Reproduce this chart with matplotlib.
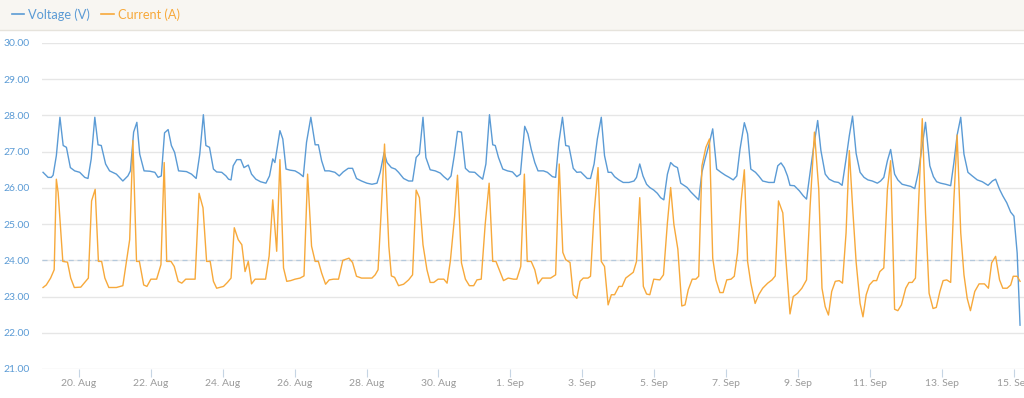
import matplotlib
matplotlib.use("Agg")
from matplotlib import pyplot as plt
from matplotlib.lines import Line2D
from matplotlib.patches import Rectangle
import pandas as pd

plt.rcParams["font.family"] = ["Lato", "DejaVu Sans"]

start = pd.Timestamp("2019-08-19 00:00")

# voltage readings: days since 19 Aug 00:00, volts
volt_days = [
    0.00, 0.14, 0.23, 0.28, 0.37, 0.47, 0.56, 0.65, 0.76, 0.88,
    1.02, 1.16, 1.25, 1.34, 1.44, 1.53, 1.62, 1.74, 1.85, 2.04,
    2.22, 2.36, 2.43, 2.52, 2.61, 2.69, 2.81, 2.97, 3.11, 3.20,
    3.29, 3.38, 3.48, 3.57, 3.66, 3.77, 3.99, 4.13, 4.26, 4.36,
    4.46, 4.53, 4.63, 4.74, 4.83, 4.97, 5.09, 5.16, 5.23, 5.29,
    5.39, 5.50, 5.59, 5.71, 5.80, 5.92, 6.05, 6.20, 6.30, 6.39,
    6.45, 6.59, 6.67, 6.76, 6.87, 7.01, 7.13, 7.24, 7.33, 7.45,
    7.57, 7.66, 7.75, 7.84, 7.96, 8.12, 8.24, 8.35, 8.49, 8.61,
    8.72, 8.86, 9.01, 9.15, 9.29, 9.38, 9.49, 9.57, 9.69, 9.80,
    9.89, 10.03, 10.17, 10.28, 10.38, 10.47, 10.57, 10.65, 10.77, 10.91,
    11.05, 11.15, 11.26, 11.35, 11.44, 11.53, 11.64, 11.75, 11.86, 12.01,
    12.12, 12.23, 12.32, 12.42, 12.51, 12.58, 12.67, 12.79, 12.92, 13.06,
    13.18, 13.28, 13.40, 13.49, 13.58, 13.68, 13.77, 13.92, 14.03, 14.17,
    14.26, 14.35, 14.45, 14.54, 14.63, 14.75, 14.85, 14.96, 15.05, 15.14,
    15.23, 15.33, 15.42, 15.53, 15.62, 15.72, 15.81, 15.90, 16.02, 16.14,
    16.30, 16.44, 16.51, 16.60, 16.69, 16.79, 16.88, 16.99, 17.09, 17.18,
    17.27, 17.37, 17.46, 17.55, 17.65, 17.74, 17.83, 17.92, 18.02, 18.11,
    18.24, 18.33, 18.42, 18.52, 18.63, 18.74, 18.86, 18.98, 19.09, 19.20,
    19.30, 19.39, 19.51, 19.60, 19.69, 19.82, 19.91, 20.02, 20.19, 20.34,
    20.44, 20.53, 20.62, 20.71, 20.78, 20.90, 21.04, 21.15, 21.24, 21.34,
    21.43, 21.55, 21.64, 21.76, 21.87, 22.01, 22.13, 22.23, 22.34, 22.43,
    22.52, 22.62, 22.73, 22.84, 22.95, 23.07, 23.21, 23.30, 23.39, 23.49,
    23.58, 23.69, 23.78, 23.90, 24.02, 24.14, 24.25, 24.35, 24.46, 24.55,
    24.67, 24.77, 24.86, 24.97, 25.11, 25.25, 25.34, 25.43, 25.53, 25.62,
    25.73, 25.85, 25.99, 26.13, 26.29, 26.41, 26.50, 26.61, 26.70, 26.81,
    26.92, 27.01, 27.10, 27.18,
]
volt_vals = [
    26.43, 26.29, 26.29, 26.35, 26.89, 27.95, 27.17, 27.12, 26.56, 26.47,
    26.43, 26.29, 26.26, 26.80, 27.95, 27.19, 27.17, 26.66, 26.47, 26.38,
    26.19, 26.33, 26.47, 27.54, 27.81, 26.93, 26.47, 26.46, 26.43, 26.29,
    26.33, 27.52, 27.61, 27.17, 26.98, 26.47, 26.45, 26.38, 26.26, 26.93,
    28.02, 27.17, 27.12, 26.52, 26.44, 26.43, 26.33, 26.24, 26.22, 26.61,
    26.78, 26.78, 26.56, 26.63, 26.38, 26.24, 26.17, 26.13, 26.33, 26.80,
    26.70, 27.58, 27.35, 26.52, 26.49, 26.47, 26.40, 26.31, 27.26, 27.95,
    27.19, 27.19, 26.75, 26.47, 26.47, 26.43, 26.33, 26.44, 26.54, 26.54,
    26.26, 26.19, 26.13, 26.10, 26.13, 26.43, 26.98, 26.70, 26.56, 26.52,
    26.43, 26.26, 26.19, 26.19, 26.84, 26.94, 27.95, 26.84, 26.50, 26.47,
    26.41, 26.31, 26.22, 26.33, 26.89, 27.56, 27.54, 26.54, 26.44, 26.43,
    26.33, 26.24, 26.66, 28.02, 27.19, 27.17, 26.84, 26.52, 26.47, 26.44,
    26.31, 26.38, 27.70, 27.49, 27.07, 26.70, 26.47, 26.47, 26.43, 26.31,
    26.29, 27.26, 27.95, 27.17, 27.15, 26.54, 26.43, 26.44, 26.35, 26.26,
    26.26, 26.66, 27.35, 27.95, 26.89, 26.43, 26.43, 26.31, 26.22, 26.15,
    26.15, 26.19, 26.29, 26.66, 26.33, 26.10, 26.01, 25.94, 25.85, 25.73,
    25.67, 26.38, 26.70, 26.61, 26.56, 26.13, 26.07, 26.01, 25.89, 25.80,
    25.67, 26.43, 26.80, 27.17, 27.63, 26.52, 26.43, 26.35, 26.29, 26.22,
    26.33, 27.07, 27.80, 27.49, 26.52, 26.43, 26.33, 26.19, 26.15, 26.15,
    26.61, 26.69, 26.56, 26.33, 26.07, 26.06, 25.92, 25.78, 25.69, 26.43,
    27.07, 27.86, 27.03, 26.38, 26.24, 26.17, 26.15, 26.07, 26.80, 27.44,
    27.98, 26.95, 26.43, 26.29, 26.22, 26.19, 26.13, 26.19, 26.29, 26.75,
    27.06, 26.38, 26.22, 26.10, 26.07, 26.04, 25.98, 26.43, 27.17, 27.81,
    26.61, 26.31, 26.17, 26.13, 26.10, 26.06, 26.70, 27.46, 27.95, 26.93,
    26.43, 26.33, 26.22, 26.17, 26.07, 26.19, 26.24, 25.96, 25.78, 25.59,
    25.33, 25.22, 24.20, 22.21,
]

# current readings: days since 19 Aug 00:00, amps
curr_days = [
    0.00, 0.09, 0.21, 0.31, 0.37, 0.42, 0.55, 0.68, 0.77, 0.87,
    1.05, 1.26, 1.35, 1.45, 1.54, 1.63, 1.72, 1.83, 2.04, 2.22,
    2.32, 2.41, 2.50, 2.60, 2.68, 2.80, 2.89, 3.00, 3.16, 3.28,
    3.37, 3.44, 3.56, 3.65, 3.76, 3.86, 3.97, 4.23, 4.34, 4.45,
    4.55, 4.65, 4.74, 4.83, 5.02, 5.13, 5.23, 5.32, 5.43, 5.53,
    5.62, 5.71, 5.80, 5.90, 6.04, 6.19, 6.29, 6.39, 6.50, 6.59,
    6.69, 6.78, 6.89, 7.01, 7.15, 7.26, 7.36, 7.47, 7.57, 7.66,
    7.75, 7.86, 7.96, 8.08, 8.22, 8.34, 8.51, 8.61, 8.72, 8.86,
    9.15, 9.24, 9.32, 9.41, 9.50, 9.62, 9.69, 9.78, 9.89, 10.03,
    10.17, 10.28, 10.38, 10.47, 10.57, 10.68, 10.77, 10.87, 10.99, 11.15,
    11.24, 11.33, 11.45, 11.53, 11.64, 11.75, 11.86, 11.98, 12.07, 12.19,
    12.30, 12.41, 12.51, 12.60, 12.69, 12.81, 12.94, 13.09, 13.18, 13.29,
    13.39, 13.47, 13.58, 13.68, 13.77, 13.89, 14.12, 14.26, 14.36, 14.46,
    14.54, 14.66, 14.75, 14.85, 14.94, 15.03, 15.16, 15.23, 15.33, 15.44,
    15.53, 15.62, 15.72, 15.81, 15.90, 16.02, 16.11, 16.21, 16.33, 16.42,
    16.51, 16.60, 16.70, 16.79, 16.88, 16.99, 17.16, 17.26, 17.37, 17.46,
    17.55, 17.66, 17.77, 17.86, 17.95, 18.06, 18.16, 18.24, 18.33, 18.44,
    18.54, 18.63, 18.72, 18.83, 18.92, 19.02, 19.14, 19.23, 19.32, 19.42,
    19.51, 19.60, 19.69, 19.81, 19.91, 20.02, 20.16, 20.28, 20.37, 20.46,
    20.58, 20.67, 20.78, 20.87, 20.99, 21.11, 21.24, 21.34, 21.46, 21.58,
    21.67, 21.76, 21.85, 21.94, 22.04, 22.15, 22.24, 22.34, 22.43, 22.52,
    22.62, 22.73, 22.81, 22.90, 22.99, 23.10, 23.19, 23.28, 23.39, 23.49,
    23.58, 23.69, 23.78, 23.88, 24.00, 24.09, 24.18, 24.27, 24.37, 24.46,
    24.55, 24.65, 24.76, 24.85, 24.95, 25.04, 25.14, 25.25, 25.34, 25.43,
    25.53, 25.62, 25.71, 25.80, 25.92, 26.04, 26.19, 26.30, 26.39, 26.50,
    26.61, 26.70, 26.82, 26.92, 26.99, 27.10, 27.18,
]
curr_vals = [
    23.25, 23.32, 23.51, 23.74, 26.24, 25.87, 23.97, 23.95, 23.51, 23.25,
    23.26, 23.51, 25.64, 25.96, 23.97, 23.97, 23.51, 23.25, 23.25, 23.30,
    23.97, 24.57, 27.31, 23.97, 23.97, 23.32, 23.28, 23.48, 23.48, 23.88,
    26.70, 23.97, 23.97, 23.83, 23.42, 23.37, 23.48, 23.48, 25.85, 25.45,
    23.97, 23.97, 23.42, 23.23, 23.28, 23.39, 23.51, 24.90, 24.57, 24.43,
    23.69, 23.97, 23.35, 23.48, 23.48, 23.48, 24.12, 25.67, 24.25, 26.78,
    23.79, 23.42, 23.44, 23.48, 23.51, 23.57, 26.38, 24.39, 23.97, 23.97,
    23.65, 23.34, 23.46, 23.48, 23.48, 24.00, 24.06, 23.94, 23.56, 23.51,
    23.51, 23.60, 23.74, 25.41, 27.21, 24.39, 23.57, 23.53, 23.30, 23.34,
    23.46, 23.60, 25.94, 25.73, 24.43, 23.74, 23.39, 23.39, 23.48, 23.48,
    23.37, 23.97, 25.22, 26.35, 23.93, 23.48, 23.30, 23.30, 23.46, 23.48,
    24.99, 26.13, 23.97, 23.97, 23.74, 23.44, 23.51, 23.48, 23.48, 23.83,
    26.38, 23.97, 23.97, 23.74, 23.35, 23.51, 23.51, 23.60, 26.66, 24.22,
    24.02, 23.94, 23.05, 22.95, 23.42, 23.51, 23.51, 23.56, 25.31, 26.56,
    23.97, 23.83, 22.77, 23.05, 23.05, 23.28, 23.28, 23.51, 23.60, 23.67,
    23.97, 25.73, 23.28, 23.07, 23.05, 23.48, 23.46, 23.60, 25.04, 26.01,
    24.99, 24.31, 22.74, 22.77, 23.19, 23.48, 23.48, 23.56, 26.61, 27.12,
    27.35, 24.06, 23.46, 23.11, 23.11, 23.46, 23.48, 23.56, 24.20, 25.64,
    26.50, 23.97, 23.37, 22.81, 23.05, 23.23, 23.37, 23.46, 23.57, 25.64,
    25.31, 23.97, 22.52, 23.00, 23.09, 23.23, 23.46, 25.50, 27.54, 25.96,
    23.23, 22.72, 22.49, 23.14, 23.42, 23.44, 23.37, 24.76, 27.03, 25.50,
    23.95, 22.81, 22.44, 23.05, 23.32, 23.44, 23.44, 23.69, 23.79, 25.96,
    26.75, 22.65, 22.61, 22.77, 23.23, 23.39, 23.39, 23.51, 25.87, 27.91,
    25.31, 23.09, 22.67, 22.70, 23.14, 23.44, 23.46, 23.39, 25.69, 27.46,
    24.76, 23.60, 22.95, 22.61, 23.14, 23.35, 23.35, 23.23, 23.93, 24.11,
    23.46, 23.23, 23.23, 23.32, 23.56, 23.56, 23.42,
]

y_ticks = [21, 22, 23, 24, 25, 26, 27, 28, 29, 30]
x_ticks = pd.date_range("2019-08-20", "2019-09-15", freq="2D")

blue = "#5b9bd5"
orange = "#f7a93b"

volt_t = start + pd.to_timedelta(volt_days, unit="D")
curr_t = start + pd.to_timedelta(curr_days, unit="D")

fig = plt.figure(figsize=(10.24, 3.98), dpi=100)
W, H = 1024, 398
ax = fig.add_axes([42 / W, 1 - 369 / H, 1 - 42 / W, (369 - 43) / H])

# header band
fig.patches.append(Rectangle((0, 1 - 30 / H), 1, 30 / H, transform=fig.transFigure,
                             facecolor="#f8f6f2", edgecolor="none", zorder=0))
fig.add_artist(Line2D([0, 1], [1 - 30 / H, 1 - 30 / H], transform=fig.transFigure,
                      color="#e6e3dc", lw=1))

ax.plot(volt_t, volt_vals, color=blue, lw=1.0, zorder=3)
ax.plot(curr_t, curr_vals, color=orange, lw=1.0, zorder=3)
ax.axhline(24, color="#b5c9dc", lw=0.9, ls=(0, (4, 3)), zorder=2)

ax.set_ylim(21, 30)
ax.set_xlim(start - pd.Timedelta(hours=0.7), start + pd.Timedelta(days=27.29))
ax.set_yticks(y_ticks)
ax.set_yticklabels([f"{v:.2f}" for v in y_ticks])
ax.set_xticks(x_ticks)
ax.set_xticklabels([f"{d.day}. {d:%b}" for d in x_ticks])
ax.grid(axis="y", color="#e6e6e6", lw=1)
for s in ax.spines.values():
    s.set_visible(False)
ax.tick_params(axis="y", length=0, pad=9, labelsize=7.5, labelcolor="#5b9bd5")
ax.tick_params(axis="x", length=6, width=0.8, color="#c6d5e4", pad=1,
               labelsize=7.5, labelcolor="#9a9a9a")

handles = [Line2D([], [], color=blue, lw=1.2), Line2D([], [], color=orange, lw=1.2)]
leg = fig.legend(handles, ["Voltage (V)", "Current (A)"], loc="upper left",
                 bbox_to_anchor=(0.0, 1.008), ncol=2, frameon=False, fontsize=9.2,
                 handlelength=1.0, handletextpad=0.3, columnspacing=0.9)
for txt, c in zip(leg.get_texts(), [blue, orange]):
    txt.set_color(c)

fig.savefig("out.png", dpi=100)
